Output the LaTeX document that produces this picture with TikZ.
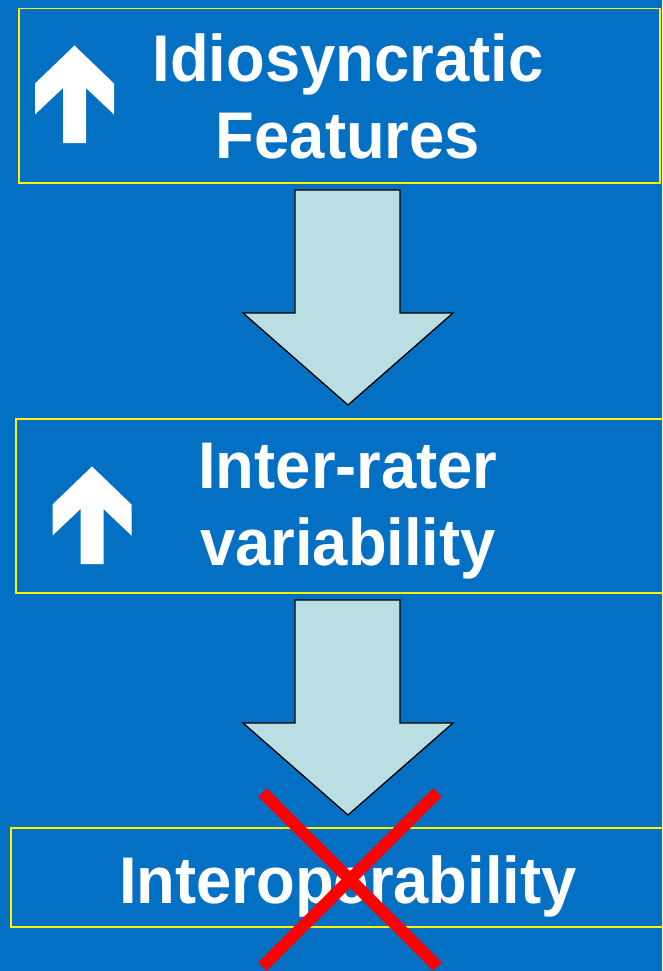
\documentclass[tikz,border=0pt]{standalone}
\usepackage{fontspec}
\setmainfont{Liberation Sans}
\newfontfamily\lblfont[FakeStretch=0.96]{Liberation Sans}
\usepackage{tikz}
\usetikzlibrary{calc, positioning}
\definecolor{slideblue}{RGB}{3,112,196}
\definecolor{arrowfill}{RGB}{185,223,226}

\begin{document}
\begin{tikzpicture}[x=1pt,y=-1pt,
    box/.style={draw=yellow,line width=1.5pt,inner sep=0pt,anchor=north west},
    lbl/.style={text=white,font=\lblfont\fontsize{66}{77}\selectfont\bfseries,align=center,inner sep=0pt,anchor=north},
    blockarrow/.style={draw=black,line width=1.3pt,fill=arrowfill,line join=miter},
    uparrow/.style={fill=white}]
            \fill[slideblue] (0,0) rectangle (662,971);
            \useasboundingbox (0,0) rectangle (662,971);
            % the three boxes
            \node[box,minimum width=641pt,minimum height=174pt] (feat) at (18,8) {};
            \node[box,minimum width=650pt,minimum height=174pt] (rater) at (15,418) {};
            \node[box,minimum width=660pt,minimum height=99pt] (interop) at (10,827) {};
            \node[lbl] (featT) at (348,33) {Idiosyncratic\\Features};
            \node[lbl] (raterT) at (348,443) {Inter-rater\\variability};
            \node[lbl] (interopT) at (348,855) {Interoperability};
            % big arrows down
            \foreach \t/\b in {190/405, 600/815}
                \draw[blockarrow] (295,\t) -- (400,\t) -- (400,\b-92) -- (453,\b-92) -- (348,\b)
                    -- (243,\b-92) -- (295,\b-92) -- cycle;
            % small arrows up
            \foreach \x/\y in {74.5/45.5, 92/466.5}
                \fill[uparrow] (\x,\y) -- (\x+39.5,\y+38) -- (\x+39.5,\y+69) -- (\x+11.5,\y+42.5)
                    -- (\x+11.5,\y+97.5) -- (\x-11.5,\y+97.5) -- (\x-11.5,\y+42.5)
                    -- (\x-39.5,\y+69) -- (\x-39.5,\y+38) -- cycle;
            % cross
            \coordinate (xa) at (262.5,792.5);
            \coordinate (xb) at (437.5,966.5);
            \coordinate (xc) at (437.5,792.5);
            \coordinate (xd) at (262.5,966.5);
            \draw[red,line width=12pt] (xa) -- (xb);
            \draw[red,line width=12pt] (xc) -- (xd);
        \end{tikzpicture}
\end{document}
